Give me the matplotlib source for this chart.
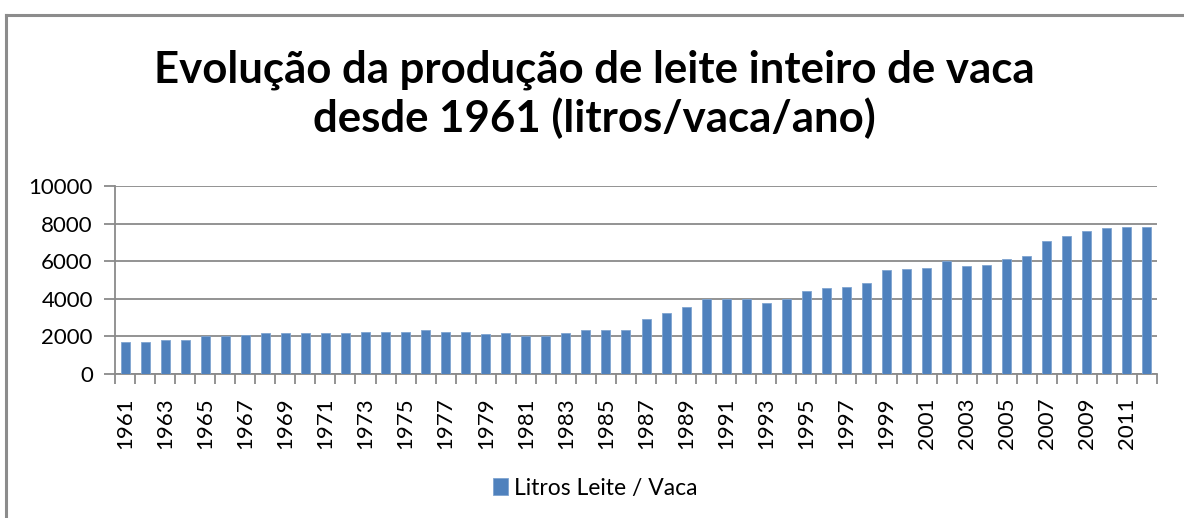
import numpy as np
import matplotlib.pyplot as plt
from matplotlib.lines import Line2D

# dados (litros/vaca/ano)
anos = list(range(1961, 2013))
litros = [1700, 1700, 1790, 1790, 2020, 2020, 2050, 2180, 2180, 2180,
          2180, 2180, 2250, 2250, 2250, 2320, 2250, 2250, 2110, 2180,
          2040, 2040, 2180, 2320, 2320, 2320, 2940, 3270, 3560, 4000,
          4000, 4000, 3800, 3980, 4440, 4570, 4640, 4830, 5520, 5590,
          5660, 6000, 5720, 5790, 6140, 6270, 7100, 7360, 7580, 7770,
          7820, 7820]
y_ticks = [0, 2000, 4000, 6000, 8000, 10000]
titulo = 'Evolução da produção de leite inteiro de vaca\ndesde 1961 (litros/vaca/ano)'
serie = 'Litros Leite / Vaca'

plt.rcParams['font.family'] = ['Lato', 'DejaVu Sans']

fig = plt.figure(figsize=(11.84, 5.18), dpi=100)
ax = fig.add_axes([115 / 1184, 1 - 374 / 518, (1157 - 115) / 1184, (374 - 186) / 518])

# moldura do gráfico (só esquerda e topo ficam visíveis)
bx, by = 6 / 1184, 1 - 14.5 / 518
fig.add_artist(Line2D([bx, bx], [0, by], transform=fig.transFigure,
                      color='#8c8c8c', linewidth=2.2))
fig.add_artist(Line2D([bx, 1], [by, by], transform=fig.transFigure,
                      color='#8c8c8c', linewidth=2.2))

x = np.arange(len(anos))
ax.bar(x, litros, width=0.45, color='#4f81bd', edgecolor='#7fa4d0', linewidth=0.6,
       label=serie, zorder=3)

ax.set_xlim(-0.5, len(anos) - 0.5)
ax.set_ylim(0, 10000)
ax.set_yticks(y_ticks)
ax.set_yticklabels([str(v) for v in y_ticks], fontsize=16)
ax.grid(axis='y', color='#8a8a8a', linewidth=1.3, zorder=0)

ax.set_xticks(x[::2])
ax.set_xticklabels([str(a) for a in anos[::2]], rotation=90, fontsize=16)
ax.tick_params(axis='x', which='major', length=0, pad=17)
ax.set_xticks(np.arange(len(anos) + 1) - 0.5, minor=True)
ax.tick_params(axis='x', which='minor', length=7, color='#8a8a8a', width=1.3)
ax.tick_params(axis='y', length=8, color='#8a8a8a', width=1.3, pad=8)

for s in ['top', 'right']:
    ax.spines[s].set_visible(False)
for s in ['left', 'bottom']:
    ax.spines[s].set_color('#8a8a8a')
    ax.spines[s].set_linewidth(1.3)

fig.text(594 / 1184, 1 - 94 / 518, titulo, ha='center', va='center',
         fontsize=31.5, fontweight='bold', linespacing=1.22)

fig.legend(loc='center', bbox_to_anchor=(595 / 1184, 1 - 488 / 518), frameon=False,
           fontsize=16.5, handlelength=0.65, handleheight=0.75, handletextpad=0.25)

fig.savefig('out.png', dpi=100)
